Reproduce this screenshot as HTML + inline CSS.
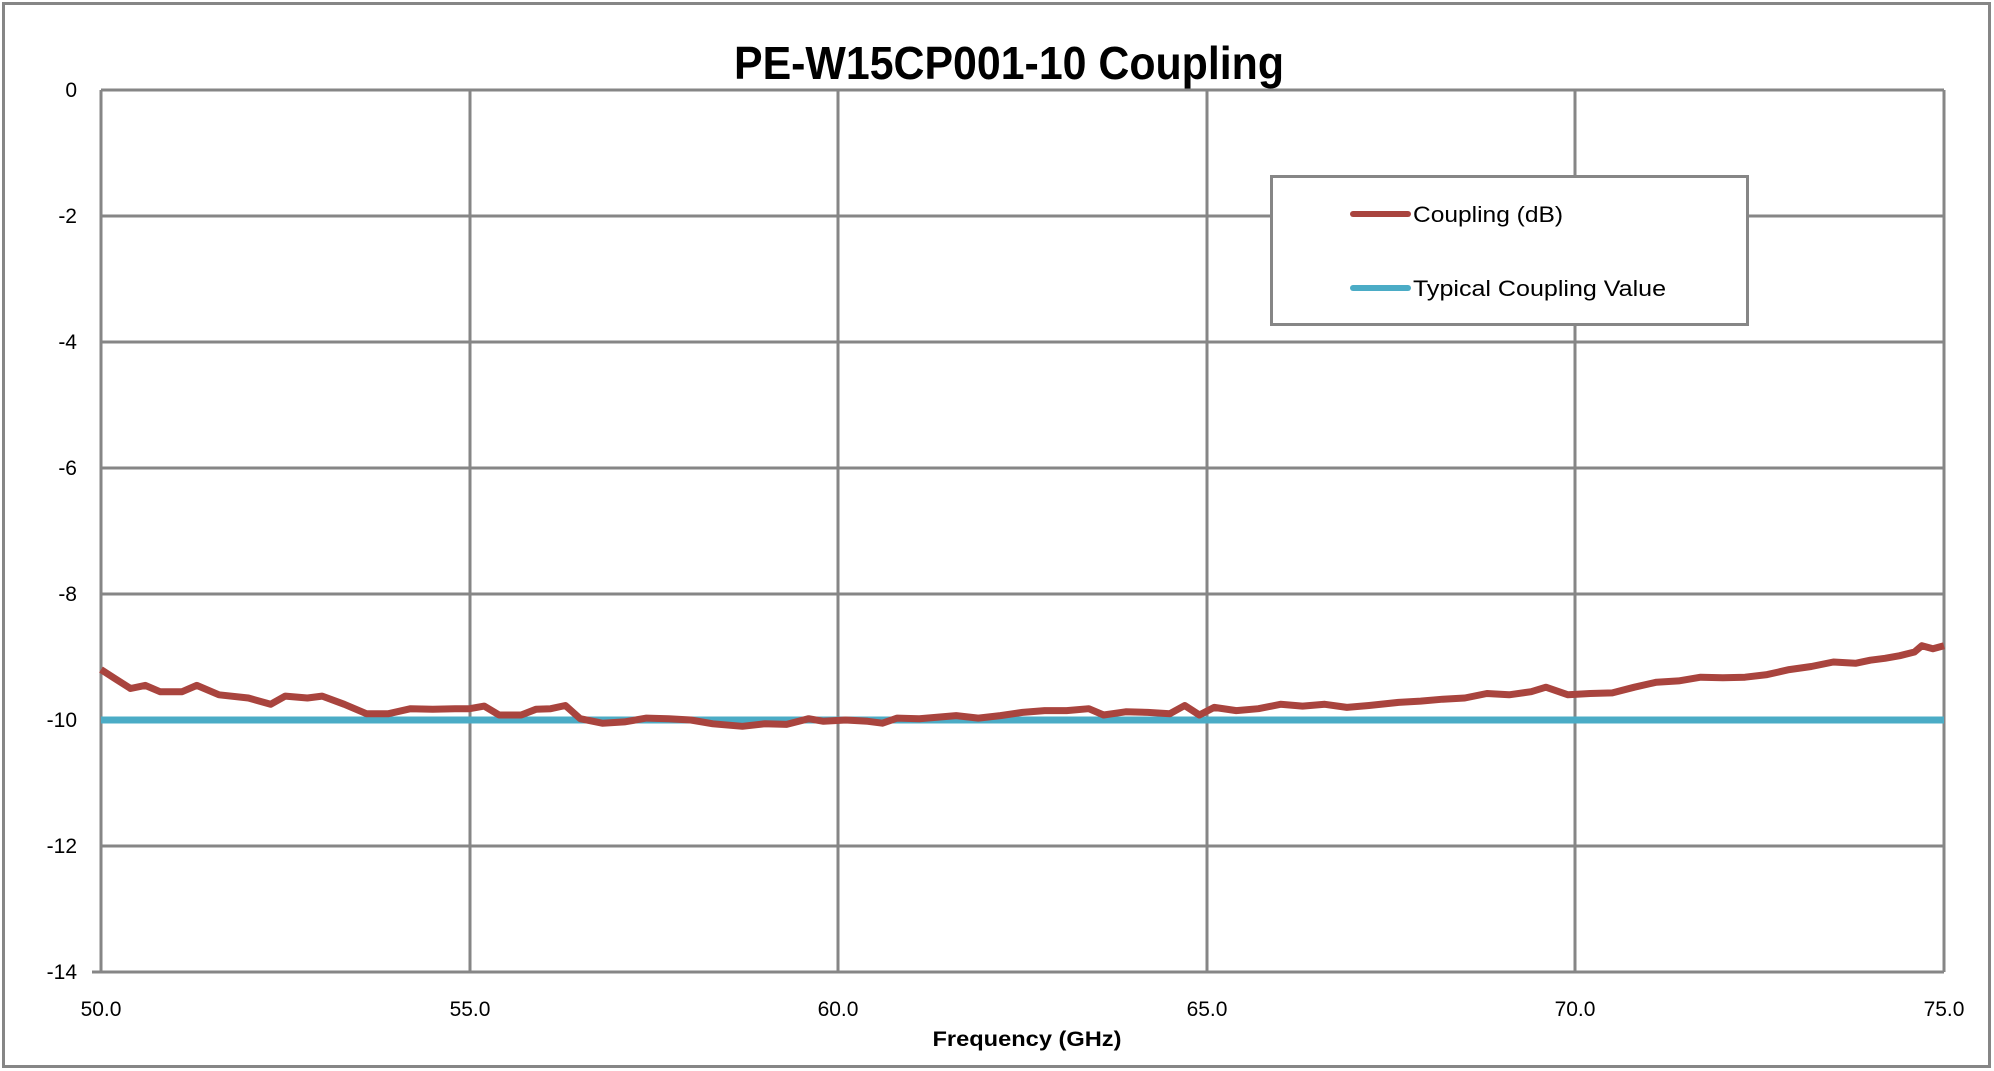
<!DOCTYPE html>
<html><head><meta charset="utf-8"><style>html,body{margin:0;padding:0;background:#fff}svg{display:block}</style></head>
<body>
<svg width="1994" height="1071" xmlns="http://www.w3.org/2000/svg" font-family="Liberation Sans, sans-serif">
<rect x="0" y="0" width="1994" height="1071" fill="#fff"/>
<rect x="3.5" y="3.5" width="1986" height="1063" fill="none" stroke="#868686" stroke-width="3"/>
<text x="1009" y="79" font-size="46" font-weight="bold" text-anchor="middle" textLength="550" lengthAdjust="spacingAndGlyphs">PE-W15CP001-10 Coupling</text>
<g stroke="#868686" stroke-width="3" fill="none">
<line x1="101" y1="90" x2="1944" y2="90"/>
<line x1="101" y1="216" x2="1944" y2="216"/>
<line x1="101" y1="342" x2="1944" y2="342"/>
<line x1="101" y1="468" x2="1944" y2="468"/>
<line x1="101" y1="594" x2="1944" y2="594"/>
<line x1="101" y1="720" x2="1944" y2="720"/>
<line x1="101" y1="846" x2="1944" y2="846"/>
<line x1="92" y1="972" x2="1944" y2="972"/>
<line x1="101" y1="90" x2="101" y2="972"/>
<line x1="470" y1="90" x2="470" y2="972"/>
<line x1="838" y1="90" x2="838" y2="972"/>
<line x1="1207" y1="90" x2="1207" y2="972"/>
<line x1="1575" y1="90" x2="1575" y2="972"/>
<line x1="1944" y1="90" x2="1944" y2="972"/>
</g>
<g font-size="21" text-anchor="end">
<text x="77" y="97">0</text>
<text x="77" y="223">-2</text>
<text x="77" y="349">-4</text>
<text x="77" y="475">-6</text>
<text x="77" y="601">-8</text>
<text x="77" y="727">-10</text>
<text x="77" y="853">-12</text>
<text x="77" y="979">-14</text>
</g>
<g font-size="21" text-anchor="middle">
<text x="101" y="1016">50.0</text>
<text x="470" y="1016">55.0</text>
<text x="838" y="1016">60.0</text>
<text x="1207" y="1016">65.0</text>
<text x="1575" y="1016">70.0</text>
<text x="1944" y="1016">75.0</text>
</g>
<text x="1027" y="1046" font-size="21" font-weight="bold" text-anchor="middle" textLength="189" lengthAdjust="spacingAndGlyphs">Frequency (GHz)</text>
<line x1="101" y1="720" x2="1944" y2="720" stroke="#4bacc6" stroke-width="7"/>
<polyline fill="none" stroke="#a9443e" stroke-width="7" stroke-linejoin="round" points="101,669.6 115.7,679.1 130.5,688.5 145.2,685.4 160,691.7 182.1,691.7 196.8,685.4 219,694.8 248.4,698 270.6,704.3 285.3,696.1 307.4,698 322.2,696.1 344.3,704.3 366.4,713.7 388.5,713.7 410.6,708.7 432.7,709.3 454.9,708.7 469.6,708.7 484.3,706.1 499.1,715 521.2,715 535.9,709.3 550.7,708.7 565.4,705.5 580.2,718.7 602.3,723.2 624.4,721.9 646.5,718.1 668.6,718.7 690.8,720 712.9,723.8 742.4,726.3 764.5,723.8 786.6,724.4 808.7,718.7 823.5,721.3 845.6,720 867.7,721.3 882.4,723.2 897.2,718.1 919.3,718.7 941.4,716.9 956.2,715.6 978.3,718.1 1000.4,715.6 1022.5,712.4 1044.6,710.6 1066.7,710.6 1088.8,708.7 1103.6,715 1125.7,711.8 1147.8,712.4 1169.9,713.7 1184.7,705.5 1199.4,715 1214.2,707.4 1236.3,710.6 1258.4,708.7 1280.5,704.3 1302.6,706.1 1324.8,704.3 1346.9,707.4 1369,705.5 1398.5,702.4 1420.6,701.1 1442.7,699.2 1464.8,698 1486.9,693.5 1509.1,694.8 1531.2,691.7 1545.9,687.2 1568,694.8 1590.1,693.5 1612.3,692.9 1634.4,687.2 1656.5,682.2 1678.6,680.9 1700.7,677.2 1722.8,677.8 1745,677.2 1767.1,674.6 1789.2,669.6 1811.3,666.5 1833.4,662 1855.5,663.3 1870.3,660.2 1885,658.3 1899.8,655.7 1914.5,652 1921.9,645.7 1932.9,648.8 1944,645.7"/>
<rect x="1271.5" y="176.5" width="476" height="148" fill="#fff" stroke="#868686" stroke-width="3"/>
<line x1="1353" y1="214" x2="1408" y2="214" stroke="#a9443e" stroke-width="6" stroke-linecap="round"/>
<line x1="1353" y1="288" x2="1408" y2="288" stroke="#4bacc6" stroke-width="6" stroke-linecap="round"/>
<text x="1413" y="222" font-size="22" textLength="150" lengthAdjust="spacingAndGlyphs">Coupling (dB)</text>
<text x="1413" y="296" font-size="22" textLength="253" lengthAdjust="spacingAndGlyphs">Typical Coupling Value</text>
</svg>
</body></html>
